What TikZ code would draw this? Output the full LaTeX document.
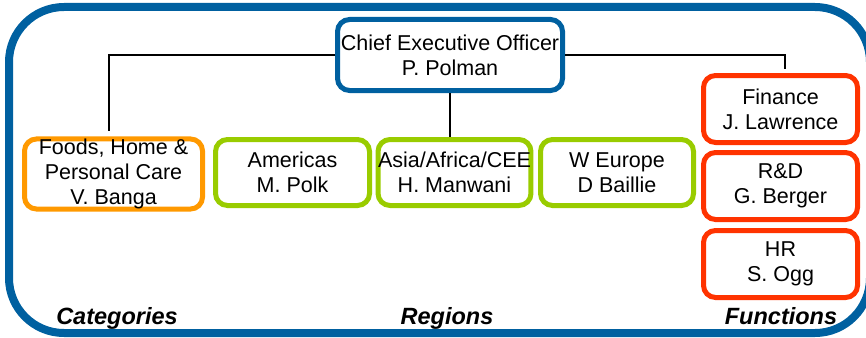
\documentclass[tikz,border=0pt]{standalone}
\usepackage{fontspec}
\setmainfont{Liberation Sans}
\definecolor{ulblue}{RGB}{0,96,160}
\definecolor{ulorange}{RGB}{255,153,0}
\definecolor{ulgreen}{RGB}{153,204,0}
\definecolor{ulred}{RGB}{255,51,0}
\begin{document}
\begin{tikzpicture}[x=1pt,y=-1pt,
        unit/.style={draw=#1,line width=5pt,rounded corners=12pt,align=center,
            inner sep=0pt,font=\fontsize{21.5}{25}\selectfont},
        group/.style={anchor=base,font=\fontsize{23.5}{26}\selectfont\bfseries\itshape}]
    \useasboundingbox (0,0) rectangle (866,337);
    \draw [ulblue,line width=8pt,rounded corners=55pt] (9,7) rectangle (870,333);

    \node [unit=ulblue,minimum width=225pt,minimum height=71pt] (ceo) at (450,55)
        {Chief Executive Officer\\P. Polman};

    \begin{scope}[minimum height=66pt]
        \node [unit=ulorange,minimum width=178pt] (fhpc) at (113.5,174) {Foods, Home \&\\Personal Care\\V. Banga};
        \node [unit=ulgreen,minimum width=154pt] (amer) at (292.5,172.5) {Americas\\M. Polk};
        \node [unit=ulgreen,minimum width=152pt] (asia) at (454.5,172.5) {Asia/Africa/CEE\\H. Manwani};
        \node [unit=ulgreen,minimum width=153pt] (weur) at (617,172.5) {W Europe\\D Baillie};
    \end{scope}

    \begin{scope}[minimum width=154pt,minimum height=67pt]
        \node [unit=ulred] (fin) at (780.5,109) {Finance\\J. Lawrence};
        \node [unit=ulred] (rnd) at (780.5,186) {R\&D\\G. Berger};
        \node [unit=ulred] (hr) at (780.5,264) {HR\\S. Ogg};
    \end{scope}

    % reporting lines
    \coordinate (fhpctop) at (109,131);
    \coordinate (fintop) at (785,69);
    \begin{scope}[line width=1.2pt]
        \draw (ceo.west) -| (fhpctop);
        \draw (ceo.east) -| (fintop);
        \draw (ceo.south) -- (ceo.south |- asia.north);
    \end{scope}

    \node [group] (cat) at (117,324) {Categories};
    \node [group] (reg) at (447,324) {Regions};
    \node [group] (fun) at (781,324) {Functions};
\end{tikzpicture}
\end{document}
